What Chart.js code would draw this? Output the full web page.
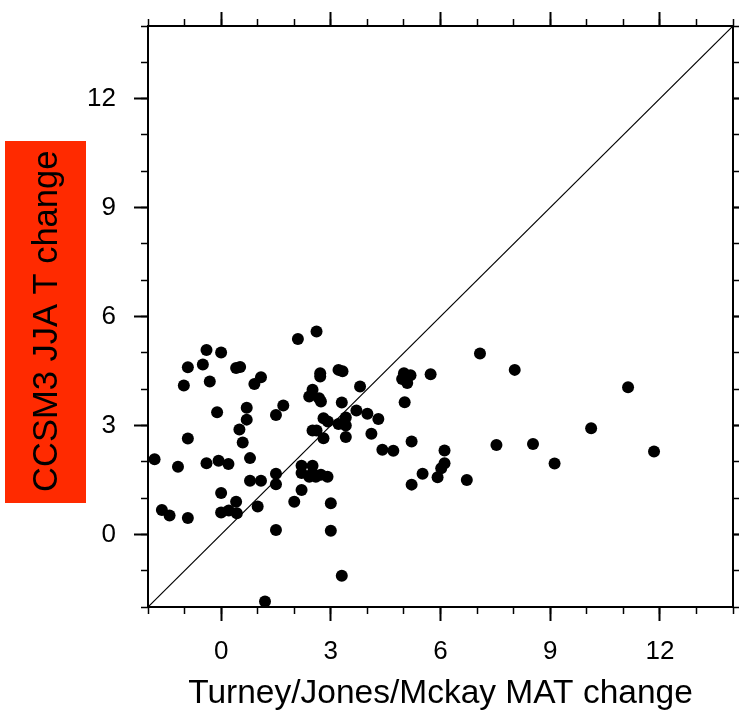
<!DOCTYPE html>
<html>
<head>
<meta charset="utf-8">
<script src="https://cdn.jsdelivr.net/npm/chart.js@4.4.1/dist/chart.umd.min.js"></script>
<style>
html, body { margin: 0; padding: 0; background: #fff; }
</style>
</head>
<body>
<canvas id="chart" width="739" height="711"></canvas>
<script>
// Turney/Jones/Mckay MAT change (x) vs CCSM3 JJA T change (y)
const matChange = [
  -1.82, -1.62, -1.41, -1.18, -0.91, -1.02, -0.91, -0.91, -0.50, -0.40,
  -0.31, -0.40, -0.11, -0.07, 0.00, 0.00, 0.00, 0.20, 0.21, 0.41,
  0.43, 0.41, 0.52, 0.50, 0.59, 0.70, 0.70, 0.79, 0.79, 0.91,
  1.09, 1.09, 1.00, 1.20, 1.50, 1.70, 1.50, 1.50, 1.50, 2.10,
  2.61, 2.20, 2.20, 2.20, 2.00, 2.50, 2.50, 2.41, 2.59, 2.73,
  2.91, 2.71, 2.71, 2.50, 2.41, 2.68, 2.73, 2.80, 2.92, 2.50,
  2.61, 2.80, 3.00, 3.00, 3.21, 3.32, 3.80, 3.30, 3.70, 4.00,
  4.30, 3.21, 3.41, 3.41, 3.41, 4.11, 4.41, 4.71, 5.21, 5.00,
  5.18, 4.95, 5.09, 5.73, 5.02, 6.11, 6.11, 6.02, 5.92, 5.51,
  5.21, 6.72, 7.08, 8.03, 11.13, 10.12, 11.84, 7.53, 8.53, 9.12,
  3.30
];
const jjaChange = [
  2.07, 0.67, 0.52, 1.86, 4.60, 4.10, 2.64, 0.45, 4.68, 5.08,
  4.21, 1.96, 3.36, 2.03, 5.01, 1.14, 0.60, 1.94, 0.66, 0.90,
  0.58, 4.58, 4.61, 2.89, 2.53, 3.49, 3.16, 2.10, 1.48, 4.14,
  4.33, 1.48, 0.77, -1.85, 3.29, 3.55, 1.67, 1.38, 0.12, 5.38,
  5.59, 1.89, 1.69, 1.22, 0.90, 1.89, 1.69, 1.59, 1.59, 1.64,
  1.59, 4.44, 4.35, 3.98, 3.80, 3.75, 3.66, 3.20, 3.11, 2.86,
  2.86, 2.65, 0.86, 0.10, 4.53, 4.49, 4.07, 3.63, 3.41, 3.32,
  3.18, 3.04, 3.22, 3.00, 2.68, 2.77, 2.33, 2.30, 2.56, 4.44,
  4.38, 4.28, 4.17, 4.41, 3.64, 2.31, 1.96, 1.82, 1.57, 1.67,
  1.37, 1.50, 4.98, 4.53, 4.05, 2.92, 2.28, 2.46, 2.49, 1.95,
  -1.14
];
const oneToOneX = [-2, 14];
const oneToOneY = [-2, 14];
const majorTicks = [0, 3, 6, 9, 12];
const minorTicks = [-2, -1, 0, 1, 2, 3, 4, 5, 6, 7, 8, 9, 10, 11, 12, 13, 14];
const axisMin = -2;
const axisMax = 14;

const fontFamily = '"Liberation Sans", Arial, Helvetica, sans-serif';

function setTicks(list) {
  return function (scale) { scale.ticks = list.map(v => ({ value: v })); };
}

// axis with long ticks (every 3) and optional labels
function majorAxis(pos, size, labels, padding) {
  const horiz = pos === 'top' || pos === 'bottom';
  return {
    type: 'linear', position: pos, min: axisMin, max: axisMax, weight: 1,
    afterBuildTicks: setTicks(majorTicks),
    afterFit: function (s) {
      if (horiz) s.height = size; else s.width = size;
      // keep label overhang from pushing the plot area around
      s.paddingTop = 0; s.paddingBottom = 0; s.paddingLeft = 0; s.paddingRight = 0;
    },
    grid: { drawOnChartArea: false, drawTicks: true, tickLength: 14, tickWidth: 2, tickColor: '#000' },
    border: { display: true, color: '#000', width: 2 },
    ticks: { display: labels, color: '#000', font: { family: fontFamily, size: 26 },
             padding: padding, maxRotation: 0, autoSkip: false }
  };
}

// axis with short ticks at every unit, no labels, zero size
function minorAxis(pos) {
  const horiz = pos === 'top' || pos === 'bottom';
  return {
    type: 'linear', position: pos, min: axisMin, max: axisMax, weight: 0,
    afterBuildTicks: setTicks(minorTicks),
    afterFit: function (s) {
      if (horiz) s.height = 0; else s.width = 0;
      s.paddingTop = 0; s.paddingBottom = 0; s.paddingLeft = 0; s.paddingRight = 0;
    },
    grid: { drawOnChartArea: false, drawTicks: true, tickLength: 7, tickWidth: 1.5, tickColor: '#000' },
    border: { display: false },
    ticks: { display: false, autoSkip: false }
  };
}

const xAxis = majorAxis('bottom', 104, true, 15);
xAxis.title = { display: true, text: 'Turney/Jones/Mckay MAT change', color: '#000',
  font: { family: fontFamily, size: 33.5, lineHeight: 1.0 }, padding: { top: 0, bottom: 0 } };
const yAxis = majorAxis('left', 148, true, 18);
yAxis.title = { display: true, text: 'CCSM3 JJA T change ', color: '#000',
  font: { family: fontFamily, size: 34.5, lineHeight: 1.2 }, padding: { top: 27, bottom: 0 } };

// red box behind the y axis title
const titleBox = {
  id: 'titleBox',
  beforeDraw(chart) {
    const ctx = chart.ctx;
    ctx.save();
    ctx.fillStyle = '#ff2a00';
    ctx.fillRect(5, 141, 81, 362);
    ctx.restore();
  }
};

new Chart(document.getElementById('chart').getContext('2d'), {
  type: 'scatter',
  data: {
    datasets: [{
      label: 'sites',
      data: matChange.map((x, i) => ({ x: x, y: jjaChange[i] })),
      backgroundColor: '#000',
      borderWidth: 0,
      pointRadius: 6,
      pointHoverRadius: 6
    }, {
      label: '1:1',
      type: 'line',
      data: oneToOneX.map((x, i) => ({ x: x, y: oneToOneY[i] })),
      borderColor: '#000',
      borderWidth: 1.2,
      pointRadius: 0,
      fill: false
    }]
  },
  options: {
    responsive: false,
    animation: false,
    devicePixelRatio: 1,
    layout: { padding: 0 },
    plugins: { legend: { display: false }, tooltip: { enabled: false } },
    scales: {
      x: xAxis,
      y: yAxis,
      x2: majorAxis('top', 26, false, 0),
      y2: majorAxis('right', 4, false, 0),
      xm: minorAxis('bottom'),
      ym: minorAxis('left'),
      xm2: minorAxis('top'),
      ym2: minorAxis('right')
    }
  },
  plugins: [titleBox]
});
</script>
</body>
</html>
